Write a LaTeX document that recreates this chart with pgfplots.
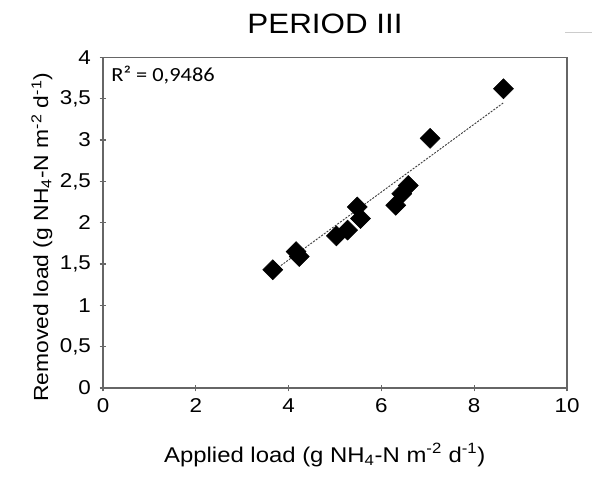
\documentclass[border=0pt]{standalone}
\usepackage{fontspec}
\setmainfont[FakeStretch=1.12]{Liberation Sans}
\newfontfamily\calibri[FakeStretch=1.12]{Carlito}
\usepackage{pgfplots}
\pgfplotsset{compat=1.18}

\begin{document}
\begin{tikzpicture}
\path[use as bounding box] (-77.25pt,-66.75pt) rectangle (366.75pt,291pt);
\begin{axis}[
  at={(0,0)}, anchor=south west,
  scale only axis, width=348pt, height=248pt,
  xmin=0, xmax=10, ymin=0, ymax=4,
  xtick={0,2,4,6,8,10},
  ytick={0,0.5,1,1.5,2,2.5,3,3.5,4},
  xtick pos=bottom, ytick pos=left,
  tick align=center,
  major tick length=5pt,
  axis line style={black!60, line width=0.8pt},
  tick style={black!60, line width=0.8pt},
  /pgf/number format/.cd, use comma, 1000 sep={}, assume math mode=true,
  /pgfplots/.cd,
  ticklabel style={font=\fontsize{15}{17}\selectfont},
  yticklabel style={xshift=-3pt},
  xticklabel style={yshift=-2pt},
  xlabel={Applied load (g NH\textsubscript{4}-N m\textsuperscript{-2} d\textsuperscript{-1})},
  ylabel={Removed load (g NH\textsubscript{4}-N m\textsuperscript{-2} d\textsuperscript{-1})},
  xlabel style={font=\fontsize{16}{18}\selectfont,
    at={(axis description cs:0.478,-0.224)}, anchor=base},
  ylabel style={font=\fontsize{15.3}{17}\selectfont,
    at={(axis description cs:-0.118,0.456)}, anchor=base, rotate=0},
  clip=false,
]
\addplot[black!75, line width=0.7pt, dash pattern=on 1.5pt off 1pt]
  coordinates {(3.66,1.41) (8.63,3.45)};
\addplot[only marks, mark=square*, mark size=5.3pt,
  mark options={rotate=45, fill=black, draw=black}]
  coordinates {
  (3.66,1.43)
  (4.16,1.65)
  (4.23,1.59)
  (5.03,1.84)
  (5.27,1.91)
  (5.48,2.19)
  (5.55,2.05)
  (6.31,2.21)
  (6.44,2.35)
  (6.58,2.45)
  (7.05,3.02)
  (8.63,3.62)
  };
\node[anchor=west, font=\calibri\fontsize{15}{17}\selectfont]
  at (axis description cs:0.008,0.946) {R² = 0,9486};
\end{axis}
\node[anchor=base, font=\fontsize{21}{24}\selectfont] at (166.5pt,266pt) {PERIOD III};
\draw[black!20, line width=0.6pt] (346.5pt,267pt) -- (366.75pt,267pt);
\end{tikzpicture}
\end{document}
